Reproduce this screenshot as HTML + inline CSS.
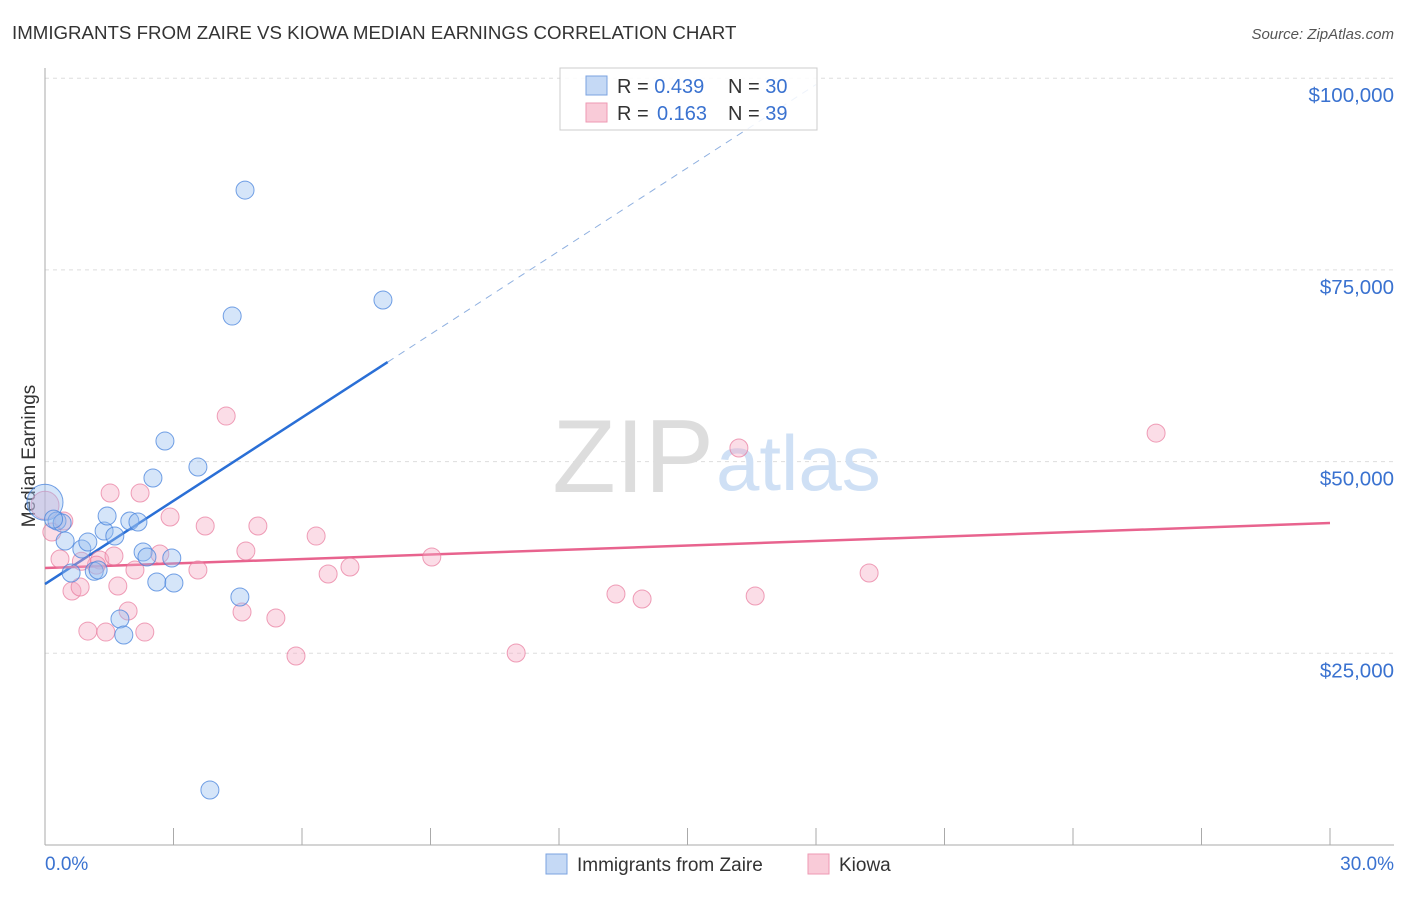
<!DOCTYPE html>
<html><head><meta charset="utf-8"><style>
body{margin:0;background:#fff;font-family:"Liberation Sans",sans-serif;}
svg text{font-family:"Liberation Sans",sans-serif;}
</style></head><body>
<svg width="1406" height="892" viewBox="0 0 1406 892">
<text x="12" y="39" font-size="18.7" fill="#333">IMMIGRANTS FROM ZAIRE VS KIOWA MEDIAN EARNINGS CORRELATION CHART</text>
<text x="1394" y="39" font-size="15" fill="#555" text-anchor="end" font-style="italic">Source: ZipAtlas.com</text>
<g id="grid"></g>
<line x1="45" y1="68" x2="45" y2="845" stroke="#aaa"/>
<line x1="45" y1="845" x2="1394" y2="845" stroke="#aaa"/>
<text x="714" y="492" font-size="104" fill="#ddd" text-anchor="end" font-family="Liberation Serif">ZIP</text>
<text x="716" y="490" font-size="78" fill="#cfe0f5">atlas</text>
<text x="35" y="456" font-size="19" fill="#333" text-anchor="middle" transform="rotate(-90 35 456)">Median Earnings</text>
<text x="45" y="870" font-size="19" fill="#3a72d0">0.0%</text>
<text x="1394" y="870" font-size="19" fill="#3a72d0" text-anchor="end">30.0%</text>
<g id="lines"></g>
<g id="pts"></g>
<g>
<rect x="560" y="68" width="257" height="62" fill="rgba(255,255,255,0.85)" stroke="#ccc"/>
<rect x="586" y="76" width="21" height="19" fill="#c5d9f5" stroke="#7ba3e0"/>
<rect x="586" y="103" width="21" height="19" fill="#f9cbd8" stroke="#ee9ab3"/>
<text x="617" y="93" font-size="20" fill="#333">R = <tspan fill="#3a72d0">0.439</tspan><tspan x="728">N = </tspan><tspan fill="#3a72d0">30</tspan></text>
<text x="617" y="120" font-size="20" fill="#333">R = <tspan x="657" fill="#3a72d0">0.163</tspan><tspan x="728">N = </tspan><tspan fill="#3a72d0">39</tspan></text>
</g>
<g>
<rect x="546" y="854" width="21" height="20" fill="#c5d9f5" stroke="#7ba3e0"/>
<text x="577" y="871" font-size="19" fill="#333">Immigrants from Zaire</text>
<rect x="808" y="854" width="21" height="20" fill="#f9cbd8" stroke="#ee9ab3"/>
<text x="839" y="871" font-size="19" fill="#333">Kiowa</text>
</g>
</svg>
<script>
const yTicks=[25000,50000,75000,100000];
const yTickLabels=["$25,000","$50,000","$75,000","$100,000"];
const xTicks=[0,3,6,9,12,15,18,21,24,27,30];
const zaireX=[0,0.28,0.4,0.47,0.61,0.86,1.0,1.15,1.24,1.38,1.45,1.63,1.75,1.84,1.98,2.17,2.29,2.38,2.52,2.61,2.8,2.96,3.01,3.57,3.85,4.37,4.55,4.67,7.89,0.2];
const zaireY=[44700,42250,42000,39640,35470,38600,39510,35700,35860,40950,42900,40300,29470,27380,42250,42120,38210,37560,47860,34300,52680,37430,34170,49290,7170,68980,32340,85410,71070,42500];
const kiowaX=[0,0.16,0.35,0.44,0.63,0.82,1.0,1.28,1.42,1.52,1.61,1.7,1.94,2.1,2.22,2.33,2.68,2.92,3.57,3.74,4.23,4.6,4.69,4.97,5.39,5.86,6.33,6.61,7.12,9.03,11.0,13.33,13.94,16.2,16.58,19.24,25.94,1.2,0.85];
const kiowaY=[44300,40820,37300,42250,33120,33640,27900,37170,27770,45900,37690,33770,30510,35860,45900,27770,37950,42770,35860,41600,55940,30380,38340,41600,29600,24650,40290,35340,36250,37560,25040,32730,32080,51770,32470,35470,53720,36500,37000];
const zaireTrend=[34030,3619];
const kiowaTrend=[36120,195.7];
const NS="http://www.w3.org/2000/svg";
const X=v=>45+v/30*1285, Y=v=>845-v/25000*191.7;
function mk(t,a,p){const e=document.createElementNS(NS,t);for(const k in a)e.setAttribute(k,a[k]);p.appendChild(e);return e;}
const grid=document.getElementById('grid');
yTicks.forEach((t,i)=>{
 const l=mk('line',{x1:45,x2:1394,y1:Y(t),y2:Y(t),stroke:'#ddd','stroke-dasharray':'4,4'},grid);
 
 
 const tx=mk('text',{x:1394,y:Y(t)+24,'font-size':20.5,fill:'#3a72d0','text-anchor':'end'},grid);
 tx.textContent=yTickLabels[i];
 
 
});
xTicks.forEach((t,i)=>{if(i===0)return;
 const l=mk('line',{x1:X(t),x2:X(t),y1:828,y2:845,stroke:'#aaa'},grid);
 
 
});
const lines=document.getElementById('lines');
let l1=mk('line',{x1:X(0),y1:Y(zaireTrend[0]),x2:X(8),y2:Y(zaireTrend[0]+8*zaireTrend[1]),stroke:'#2a6fd6','stroke-width':2.5},lines);


let l2=mk('line',{x1:X(8),y1:Y(zaireTrend[0]+8*zaireTrend[1]),x2:X(18),y2:Y(zaireTrend[0]+18*zaireTrend[1]),stroke:'#8fb0e0','stroke-width':1,'stroke-dasharray':'7,6'},lines);


let l3=mk('line',{x1:X(0),y1:Y(kiowaTrend[0]),x2:X(30),y2:Y(kiowaTrend[0]+30*kiowaTrend[1]),stroke:'#e8638e','stroke-width':2.5},lines);


const pts=document.getElementById('pts');
kiowaX.forEach((x,i)=>{
 const c=mk('circle',{cx:X(x),cy:Y(kiowaY[i]),r:i===0?14:9,fill:'rgba(246,170,195,0.4)',stroke:'rgba(232,120,155,0.7)','stroke-width':1},pts);
 
 
});
zaireX.forEach((x,i)=>{
 const c=mk('circle',{cx:X(x),cy:Y(zaireY[i]),r:i===0?18:9,fill:'rgba(150,190,240,0.4)',stroke:'rgba(70,130,220,0.75)','stroke-width':1},pts);
 
 
});
</script>
</body></html>
